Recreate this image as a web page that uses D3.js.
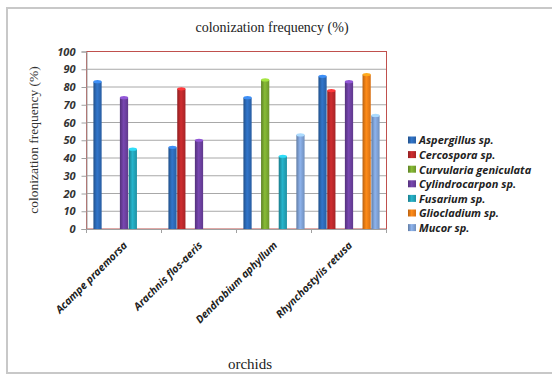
<!DOCTYPE html>
<html><head><meta charset="utf-8">
<script src="https://cdn.jsdelivr.net/npm/d3@7/dist/d3.min.js"></script>
<style>body{margin:0;background:#fff}svg{display:block}</style>
</head><body>
<script>
const categories = ["Acampe praemorsa","Arachnis flos-aeris","Dendrobium aphyllum","Rhynchostylis retusa"];
const seriesNames = ["Aspergillus sp.","Cercospora sp.","Curvularia geniculata","Cylindrocarpon sp.","Fusarium sp.","Gliocladium  sp.","Mucor sp."];
// values per series, in category order (null = no bar)
const aspergillus    = [83, 46, 74, 86];
const cercospora     = [null, 79, null, 78];
const curvularia     = [null, null, 84, null];
const cylindrocarpon = [74, 50, null, 83];
const fusarium       = [45, null, 41, null];
const gliocladium    = [null, null, null, 87];
const mucor          = [null, null, 53, 64];
const seriesValues = [aspergillus, cercospora, curvularia, cylindrocarpon, fusarium, gliocladium, mucor];
const colors = ["#2c68b3","#b8282a","#78a630","#6a3f9c","#22a0b4","#ee7c16","#7d9fd2"];
const yTicks = [0,10,20,30,40,50,60,70,80,90,100];

const W=552,H=375;
const svg=d3.select("body").append("svg").attr("width",W).attr("height",H);
// outer frame
svg.append("rect").attr("x",7).attr("y",8).attr("width",W).attr("height",365)
  .attr("fill","#fff").attr("stroke","#c8c8c8").attr("stroke-width",2);

const L=86.5,R=386.5,T=51.5,B=229;
const x=d3.scaleBand().domain(categories).range([L,R]).paddingInner(0).paddingOuter(0);
const xs=d3.scaleBand().domain(d3.range(seriesNames.length)).range([0,x.bandwidth()]).paddingOuter(0.75).paddingInner(0);
const y=d3.scaleLinear().domain([0,100]).range([B,T]);

const defs=svg.append("defs");
colors.forEach((c,i)=>{
  const g=defs.append("linearGradient").attr("id","g"+i).attr("x1","0").attr("x2","1").attr("y1","0").attr("y2","0");
  const dk=d3.color(c).darker(0.7), lt=d3.color(c).brighter(0.35);
  g.append("stop").attr("offset","0").attr("stop-color",dk);
  g.append("stop").attr("offset","0.45").attr("stop-color",lt);
  g.append("stop").attr("offset","1").attr("stop-color",d3.color(c).darker(0.3));
});

// gridlines
svg.append("g").selectAll("line").data(yTicks.filter(d=>d>0&&d<100)).join("line")
  .attr("x1",L).attr("x2",R).attr("y1",d=>y(d)).attr("y2",d=>y(d))
  .attr("stroke","#a8a8a8").attr("stroke-width",1);

// plot border (red)
svg.append("rect").attr("x",L).attr("y",T).attr("width",R-L).attr("height",B-T)
  .attr("fill","none").attr("stroke","#c0504d").attr("stroke-width",1);

// y axis
const ya=svg.append("g").attr("transform",`translate(${L},0)`)
  .call(d3.axisLeft(y).tickValues(yTicks).tickSize(5).tickPadding(6));
ya.select(".domain").attr("stroke","#a0a0a0");
ya.selectAll(".tick line").attr("stroke","#a0a0a0");
ya.selectAll("text").attr("font-family","'Open Sans', Lato, sans-serif").attr("font-weight","bold")
  .attr("font-style","italic").attr("font-size",11).attr("fill","#333");

// x axis
const xa=svg.append("g").attr("transform",`translate(0,${B})`)
  .call(d3.axisBottom(x).tickSize(0).tickFormat(""));
xa.select(".domain").attr("stroke","#a0a0a0");
svg.append("g").selectAll("line").data(d3.range(categories.length+1)).join("line")
  .attr("x1",i=>L+i*x.bandwidth()).attr("x2",i=>L+i*x.bandwidth())
  .attr("y1",B).attr("y2",B+4).attr("stroke","#a0a0a0");
svg.append("g").selectAll("text").data(categories).join("text")
  .attr("transform",d=>`translate(${x(d)+x.bandwidth()/2+4},${B+17}) rotate(-45)`)
  .attr("text-anchor","end")
  .attr("font-family","'Open Sans', Lato, sans-serif").attr("font-weight","bold")
  .attr("font-style","italic").attr("font-size",10.5).attr("fill","#222").text(d=>d);

// bars
const bars=[];
seriesValues.forEach((vals,si)=>vals.forEach((v,ci)=>{ if(v!=null) bars.push({si,ci,v}); }));
const bw=xs.bandwidth();
const bg=svg.append("g");
bg.selectAll("rect").data(bars).join("rect")
  .attr("x",d=>x(categories[d.ci])+xs(d.si)+0.3)
  .attr("y",d=>y(d.v))
  .attr("width",bw-0.6)
  .attr("height",d=>B-y(d.v))
  .attr("fill",d=>`url(#g${d.si})`);
bg.selectAll("ellipse").data(bars).join("ellipse")
  .attr("cx",d=>x(categories[d.ci])+xs(d.si)+bw/2)
  .attr("cy",d=>y(d.v))
  .attr("rx",bw/2-0.3).attr("ry",1.6)
  .attr("fill",d=>d3.color(colors[d.si]).brighter(0.9));

// titles
svg.append("text").attr("x",272).attr("y",32).attr("text-anchor","middle")
  .attr("font-family","'Liberation Serif', 'DejaVu Serif', serif").attr("font-size",14).attr("fill","#222")
  .text("colonization frequency (%)");
svg.append("text").attr("transform",`translate(38,140) rotate(-90)`).attr("text-anchor","middle")
  .attr("font-family","'Liberation Serif', 'DejaVu Serif', serif").attr("font-size",13.5).attr("fill","#333")
  .text("colonization frequency (%)");
svg.append("text").attr("x",250).attr("y",369).attr("text-anchor","middle")
  .attr("font-family","'Liberation Serif', 'DejaVu Serif', serif").attr("font-size",15).attr("fill","#222")
  .text("orchids");

// legend
const lg=svg.append("g").selectAll("g").data(seriesNames).join("g")
  .attr("transform",(d,i)=>`translate(408,${140.5+i*14.6})`);
lg.append("rect").attr("x",0).attr("y",-4).attr("width",8).attr("height",7)
  .attr("fill",(d,i)=>`url(#g${i})`);
lg.append("text").attr("x",11).attr("y",0).attr("dy","0.35em")
  .attr("font-family","'Open Sans', Lato, sans-serif").attr("font-weight","bold")
  .attr("font-style","italic").attr("font-size",11).attr("fill","#222").text(d=>d);
</script>
</body></html>
